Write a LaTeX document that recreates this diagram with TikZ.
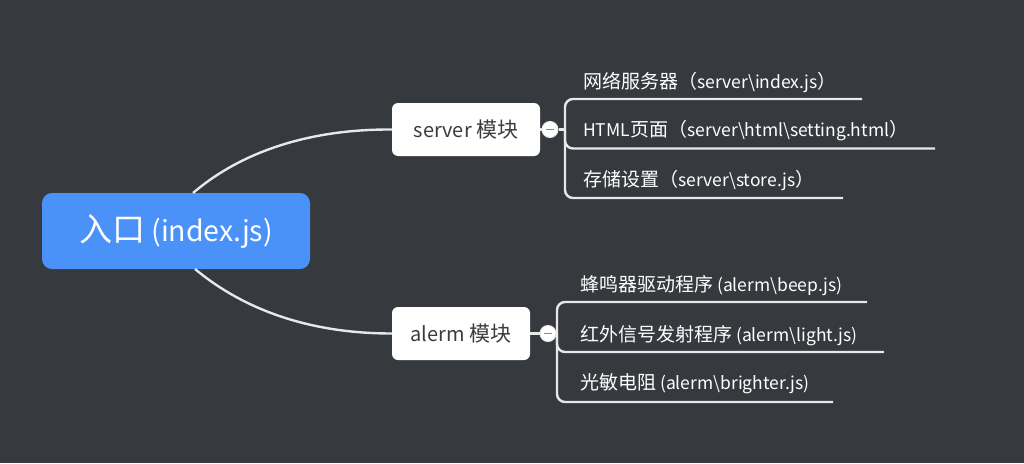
\documentclass[tikz,border=0pt]{standalone}
\usepackage{fontspec}
\setmainfont{Noto Sans CJK SC}
\definecolor{bg}{HTML}{36393E}
\definecolor{rootblue}{HTML}{4A92F8}
\definecolor{linec}{HTML}{E8E8E8}
\definecolor{txtdark}{HTML}{3C3C3C}
\definecolor{minusc}{HTML}{8A8A8A}
\newcommand\zh[2]{{\fontsize{#1}{#1}\selectfont #2}}
\tikzset{
  rootbox/.style={fill=rootblue, rounded corners=10pt, text=white, font=\fontsize{28.5}{34}\selectfont, inner sep=0pt},
  modbox/.style={fill=white, rounded corners=6pt, text=txtdark, font=\fontsize{20}{24}\selectfont, inner sep=0pt, minimum height=53pt},
  childtxt/.style={text=white, font=\fontsize{17.5}{20}\selectfont, inner sep=0pt, anchor=base west},
  conn/.style={draw=linec, line width=2.4pt},
  togglec/.style={circle, fill=white, draw=linec, line width=1pt, minimum size=16pt, inner sep=0pt},
}
\begin{document}
\begin{tikzpicture}[x=1pt,y=-1pt]
\fill[bg] (0,0) rectangle (1024,463);
\useasboundingbox (0,0) rectangle (1024,463);

\node[rootbox, minimum width=268pt, minimum height=76pt] (root) at (176,231) {\zh{33}{入口} (index.js)};
\node[modbox, minimum width=148pt] (server) at (466,129.5) {server \zh{21}{模块}};
\node[modbox, minimum width=138pt] (alerm) at (461,333.5) {alerm \zh{21}{模块}};

% curves
\coordinate (rtop) at (193,193);
\coordinate (rbot) at (195,269);
\draw[conn] (rtop) .. controls (235,157) and (300,129) .. (server.west);
\draw[conn] (rbot) .. controls (237,304) and (300,333.5) .. (alerm.west);

% server branch
\node[togglec] (st) at (550,129.5) {};
\draw[conn] (server.east) -- (st.west);
\coordinate (sj) at (565,129.5);
\draw[conn] (st.east) -- (sj);
\node[childtxt] (s1) at (583,88) {\zh{19}{网络服务器（}server\textbackslash index.js\zh{19}{）}};
\node[childtxt] (s2) at (583,136.5) {HTML\zh{19}{页面（}server\textbackslash html\textbackslash setting.html\zh{19}{）}};
\node[childtxt] (s3) at (583,186.5) {\zh{19}{存储设置（}server\textbackslash store.js\zh{19}{）}};
\coordinate (s1e) at (862,99);
\coordinate (s2e) at (935,148.5);
\coordinate (s3e) at (843,198);
\draw[conn, rounded corners=8pt] (s1e) -- (565,99) -- (565,198) -- (s3e);
\draw[conn, rounded corners=8pt] (sj) -- (565,148.5) -- (s2e);
\draw[minusc, line width=1.6pt] (546,129.5) -- (554,129.5);

% alerm branch
\node[togglec] (at) at (548,333.5) {};
\draw[conn] (alerm.east) -- (at.west);
\coordinate (aj) at (557,333.5);
\draw[conn] (at.east) -- (aj);
\node[childtxt] (a1) at (580,291.5) {\zh{19}{蜂鸣器驱动程序} (alerm\textbackslash beep.js)};
\node[childtxt] (a2) at (580,341.5) {\zh{19}{红外信号发射程序} (alerm\textbackslash light.js)};
\node[childtxt] (a3) at (580,389.5) {\zh{19}{光敏电阻} (alerm\textbackslash brighter.js)};
\coordinate (a1e) at (867,302);
\coordinate (a2e) at (884,352);
\coordinate (a3e) at (833,402);
\draw[conn, rounded corners=8pt] (a1e) -- (557,302) -- (557,402) -- (a3e);
\draw[conn, rounded corners=8pt] (aj) -- (557,352) -- (a2e);
\draw[minusc, line width=1.6pt] (544,333.5) -- (552,333.5);
\end{tikzpicture}
\end{document}
